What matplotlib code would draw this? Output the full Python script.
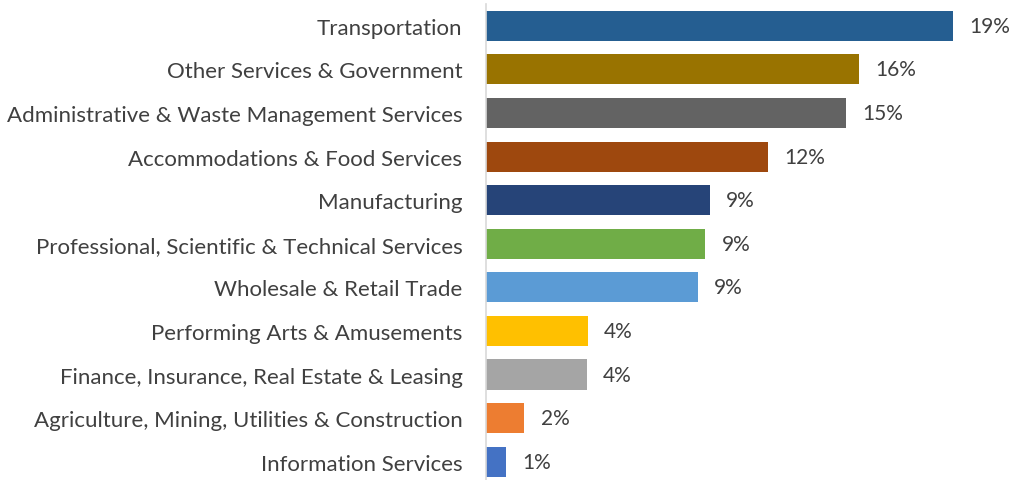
import matplotlib
matplotlib.use('Agg')
import matplotlib.pyplot as plt

# Data (share of jobs by industry)
industries = [
    "Transportation",
    "Other Services & Government",
    "Administrative & Waste Management Services",
    "Accommodations & Food Services",
    "Manufacturing",
    "Professional, Scientific & Technical Services",
    "Wholesale & Retail Trade",
    "Performing Arts & Amusements",
    "Finance, Insurance, Real Estate & Leasing",
    "Agriculture, Mining, Utilities & Construction",
    "Information Services",
]
shares = [19.46, 15.54, 15.0, 11.75, 9.33, 9.13, 8.83, 4.23, 4.19, 1.6, 0.85]
bar_colors = ["#255E91", "#997300", "#636363", "#9E480E", "#264478", "#70AD47",
              "#5B9BD5", "#FFC000", "#A5A5A5", "#ED7D31", "#4472C4"]

plt.rcParams['font.family'] = ['Lato', 'DejaVu Sans']
text_color = "#404040"

W, H = 1014, 481
fig = plt.figure(figsize=(W / 100, H / 100), dpi=100)
ax = fig.add_axes([486 / W, 0, (W - 486) / W, (H - 5) / H])

y = range(len(industries))
ax.barh(y, shares, height=0.69, color=bar_colors)

for yi, v in zip(y, shares):
    ax.text(v + 0.68, yi, f"{round(v):.0f}%", va='center', ha='left',
            fontsize=15, color=text_color)

ax.set_ylim(10.42, -0.5)
ax.set_xlim(0, 22)
ax.set_yticks(list(y))
ax.set_yticklabels(industries, fontsize=16, color=text_color)
ax.tick_params(axis='y', length=0, pad=17)
ax.set_xticks([])

for side in ['top', 'right', 'bottom']:
    ax.spines[side].set_visible(False)
ax.spines['left'].set_color("#d9d9d9")
ax.spines['left'].set_linewidth(1.2)

fig.savefig("out.png", dpi=100)
